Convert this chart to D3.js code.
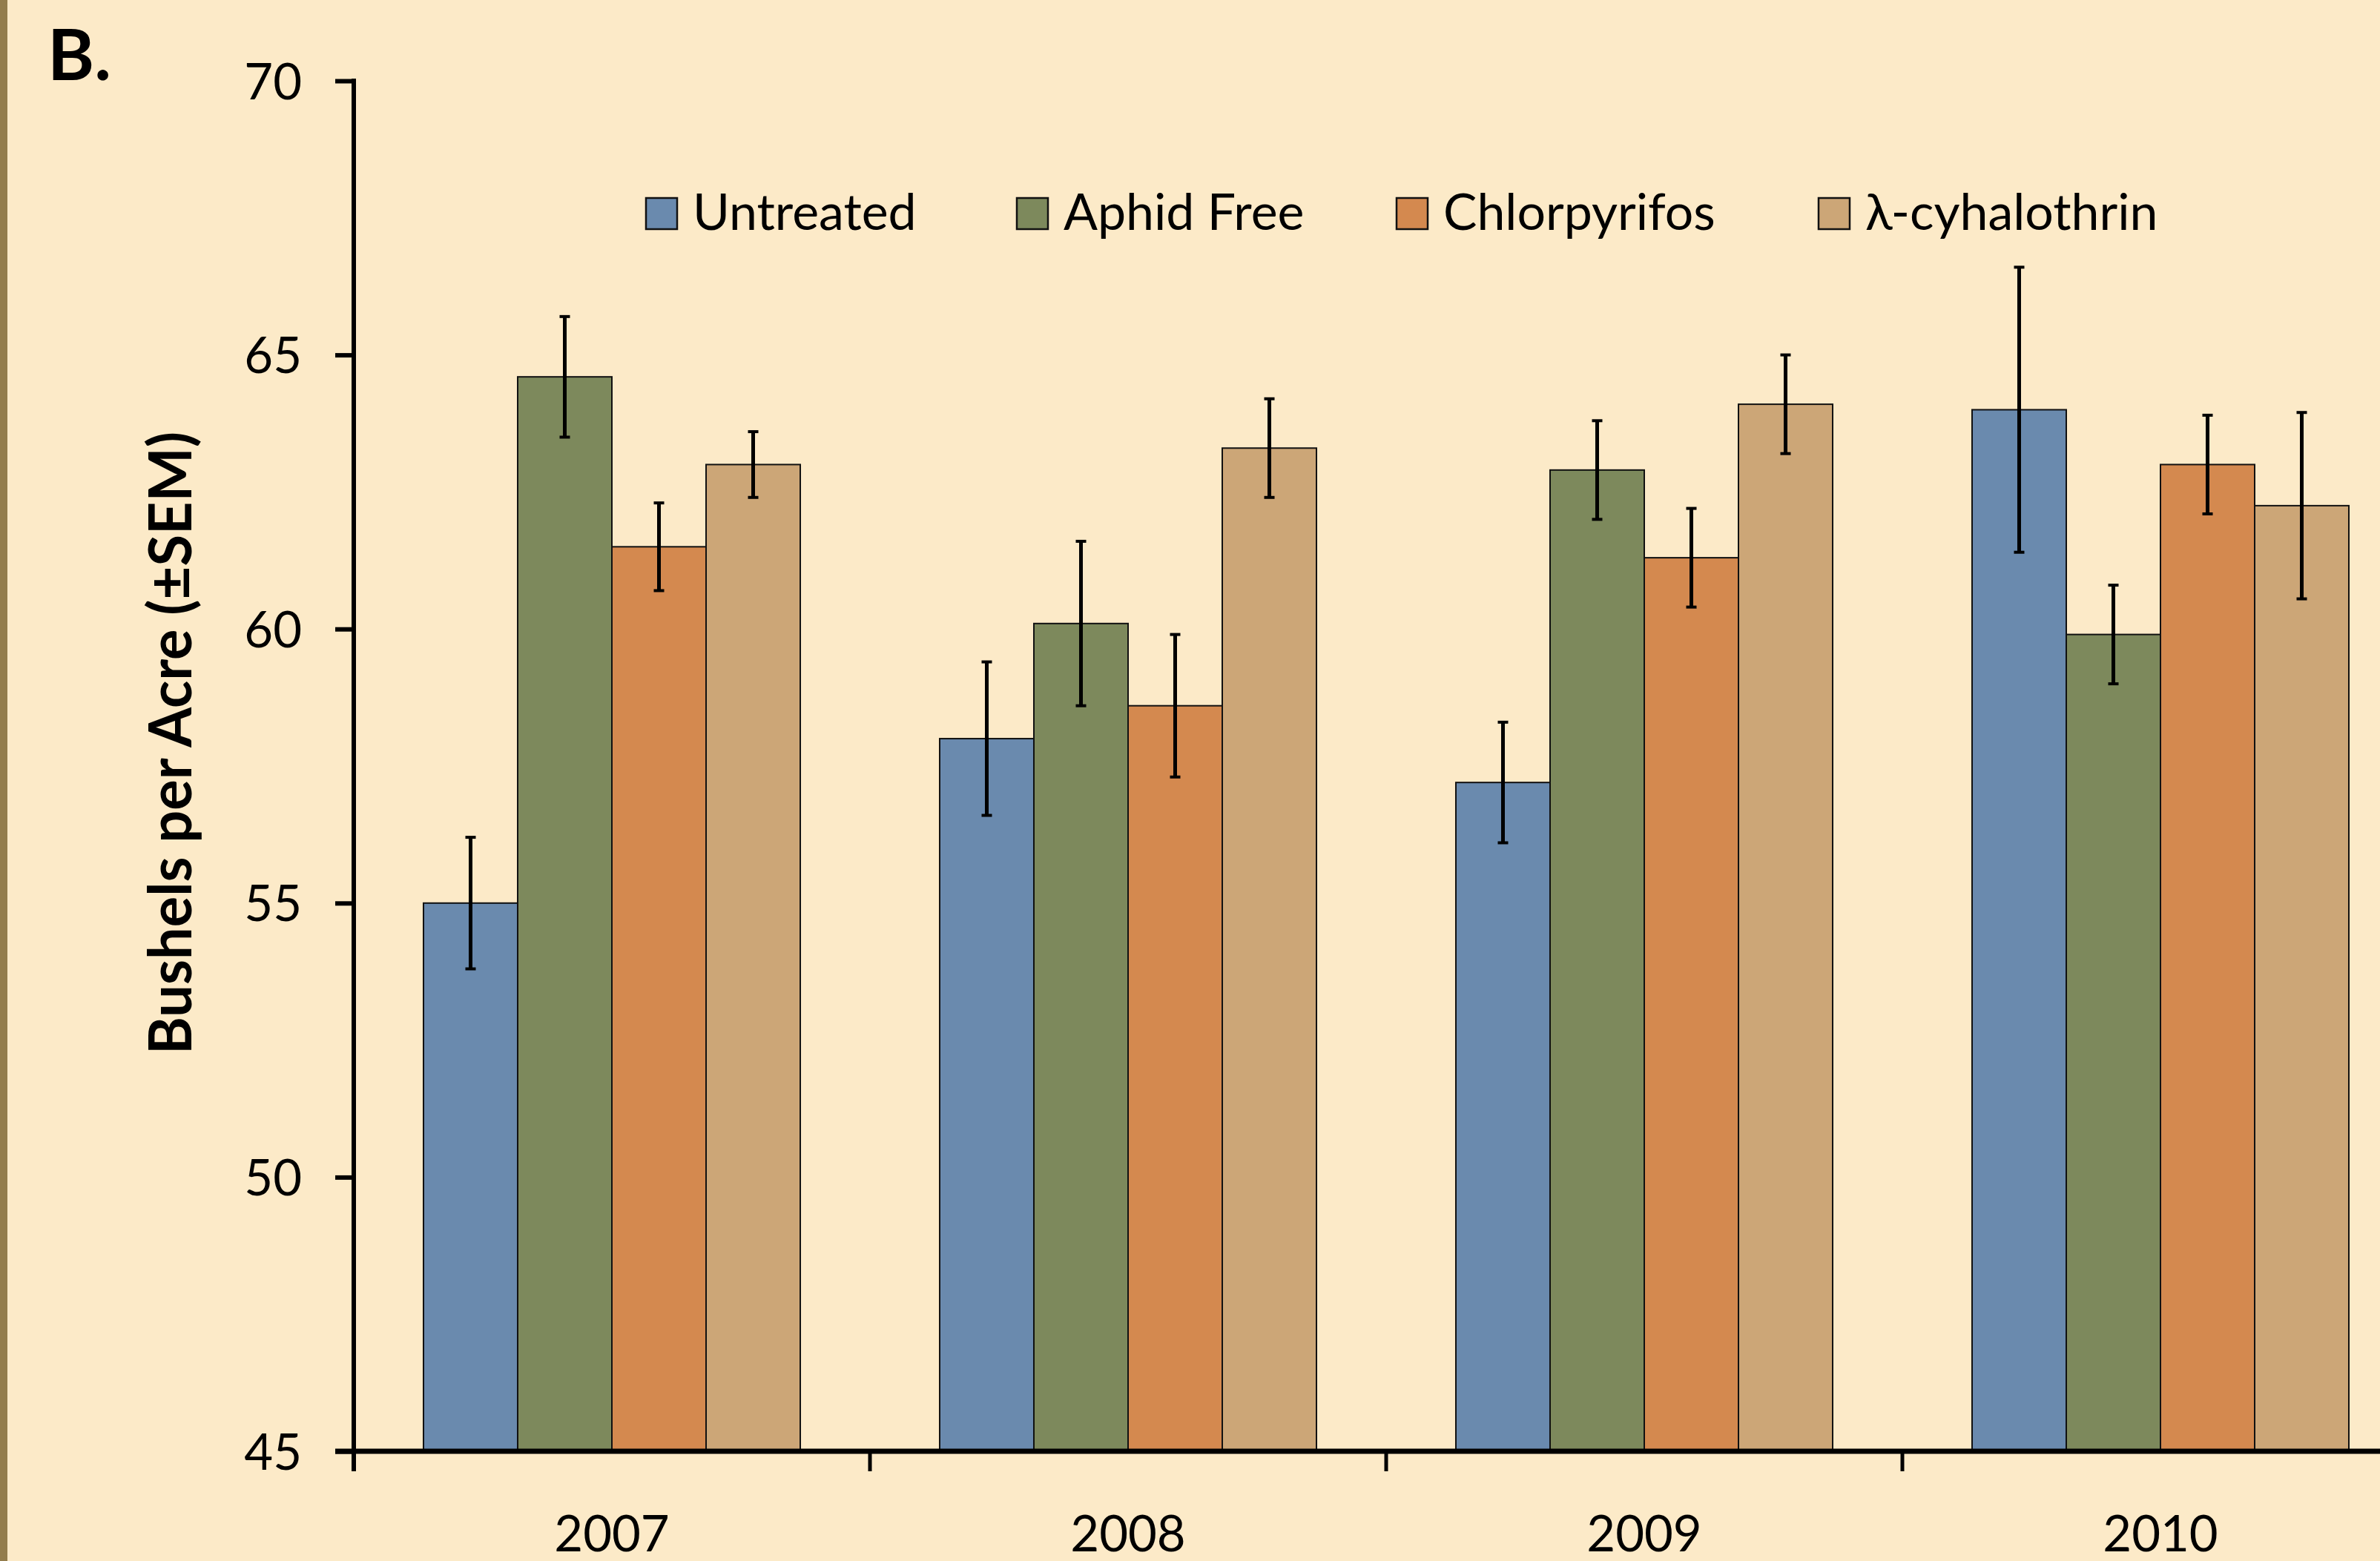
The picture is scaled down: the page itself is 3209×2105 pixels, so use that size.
<!DOCTYPE html>
<html>
<head>
<meta charset="utf-8">
<script src="https://cdn.jsdelivr.net/npm/d3@7"></script>
<style>
  html, body { margin: 0; padding: 0; background: #fceac8; overflow: hidden; }
  svg { display: block; }
</style>
</head>
<body>
<svg id="chart"></svg>
<script>
// Yield by year and treatment, bushels per acre with standard errors
const years = ["2007", "2008", "2009", "2010"];
const treatments = ["Untreated", "Aphid Free", "Chlorpyrifos", "λ-cyhalothrin"];

const untreatedYield = [55.0, 58.0, 57.2, 64.0];
const untreatedSem   = [1.2, 1.4, 1.1, 2.6];
const aphidFreeYield = [64.6, 60.1, 62.9, 59.9];
const aphidFreeSem   = [1.1, 1.5, 0.9, 0.9];
const chlorpyrifosYield = [61.5, 58.6, 61.3, 63.0];
const chlorpyrifosSem   = [0.8, 1.3, 0.9, 0.9];
const cyhalothrinYield = [63.0, 63.3, 64.1, 62.25];
const cyhalothrinSem   = [0.6, 0.9, 0.9, 1.7];

const yTicks = [45, 50, 55, 60, 65, 70];
const panelLabel = "B.";
const yTitle = "Bushels per Acre (\u00B1SEM)";

const colors = ["#6a8aae", "#7d895c", "#d4894f", "#cca677"];

const seriesYield = [untreatedYield, aphidFreeYield, chlorpyrifosYield, cyhalothrinYield];
const seriesSem = [untreatedSem, aphidFreeSem, chlorpyrifosSem, cyhalothrinSem];

// flat records for the bars
const records = [];
years.forEach((yr, i) => {
  treatments.forEach((t, j) => {
    records.push({ year: yr, treatment: t, value: seriesYield[j][i], sem: seriesSem[j][i], color: colors[j] });
  });
});

const W = 3209, H = 2105;
const svg = d3.select("#chart").attr("width", W).attr("height", H);

svg.append("rect").attr("width", W).attr("height", H).attr("fill", "#fceac8");
// left border stripe
svg.append("rect").attr("x", 0).attr("y", 0).attr("width", 10).attr("height", H).attr("fill", "#937d4d");

const x0 = 477, x1 = 3261;   // category axis extends past the right edge
const yTop = 109, yBottom = 1957;
const FONT = "Lato, 'Open Sans', sans-serif";

const x = d3.scaleBand().domain(years).range([x0, x1]).paddingInner(0).paddingOuter(0);
const xs = d3.scaleBand().domain(treatments).range([0, x.bandwidth()]).paddingInner(0).paddingOuter(0.74);
const y = d3.scaleLinear().domain([45, 70]).range([yBottom, yTop]);

// bars
const bars = svg.append("g");
bars.selectAll("rect").data(records).join("rect")
  .attr("x", d => x(d.year) + xs(d.treatment))
  .attr("y", d => y(d.value))
  .attr("width", xs.bandwidth())
  .attr("height", d => y(45) - y(d.value))
  .attr("fill", d => d.color)
  .attr("stroke", "#111")
  .attr("stroke-width", 2);

// error bars
const errs = svg.append("g").attr("stroke", "#000").attr("fill", "none");
const cx = d => x(d.year) + xs(d.treatment) + xs.bandwidth() / 2;
errs.selectAll("line.v").data(records).join("line").attr("class", "v")
  .attr("x1", cx).attr("x2", cx)
  .attr("y1", d => y(d.value + d.sem)).attr("y2", d => y(d.value - d.sem))
  .attr("stroke-width", 5);
errs.selectAll("line.top").data(records).join("line").attr("class", "top")
  .attr("x1", d => cx(d) - 7).attr("x2", d => cx(d) + 7)
  .attr("y1", d => y(d.value + d.sem)).attr("y2", d => y(d.value + d.sem))
  .attr("stroke-width", 4);
errs.selectAll("line.bot").data(records).join("line").attr("class", "bot")
  .attr("x1", d => cx(d) - 7).attr("x2", d => cx(d) + 7)
  .attr("y1", d => y(d.value - d.sem)).attr("y2", d => y(d.value - d.sem))
  .attr("stroke-width", 4);

// y axis
const yAxis = svg.append("g").attr("transform", `translate(${x0},0)`)
  .call(d3.axisLeft(y).tickValues(yTicks).tickSize(25).tickSizeOuter(0).tickPadding(45).tickFormat(d3.format("d")));
yAxis.select(".domain").remove();
yAxis.selectAll(".tick line").attr("stroke", "#000").attr("stroke-width", 6);
yAxis.selectAll(".tick text")
  .attr("font-family", FONT).attr("font-size", 67).attr("fill", "#000")
  .attr("dy", "0.36em");
svg.append("line").attr("x1", x0).attr("x2", x0).attr("y1", yTop - 3).attr("y2", yBottom + 27)
  .attr("stroke", "#000").attr("stroke-width", 6);

// x axis
svg.append("line").attr("x1", x0 - 25).attr("x2", W).attr("y1", yBottom).attr("y2", yBottom)
  .attr("stroke", "#000").attr("stroke-width", 7);
svg.append("g").selectAll("line").data(years.slice(1)).join("line")
  .attr("x1", d => x(d)).attr("x2", d => x(d))
  .attr("y1", yBottom).attr("y2", yBottom + 27)
  .attr("stroke", "#000").attr("stroke-width", 5);
const xAxis = svg.append("g").attr("transform", `translate(0,${yBottom})`)
  .call(d3.axisBottom(x).tickSize(0).tickPadding(0));
xAxis.select(".domain").remove();
xAxis.selectAll(".tick text")
  .attr("font-family", FONT).attr("font-size", 67).attr("fill", "#000")
  .attr("dy", null).attr("y", 135);

// y title
svg.append("text")
  .attr("transform", `translate(258,1002) rotate(-90)`)
  .attr("text-anchor", "middle")
  .attr("font-family", FONT).attr("font-weight", 700).attr("font-size", 80)
  .attr("textLength", 840).attr("lengthAdjust", "spacingAndGlyphs")
  .text(yTitle);

// panel label
svg.append("text").attr("x", 64).attr("y", 108)
  .attr("font-family", FONT).attr("font-weight", 700).attr("font-size", 96)
  .text(panelLabel);

// legend
const legendX = [871, 1371, 1883, 2452];
const legend = svg.append("g");
treatments.forEach((t, j) => {
  legend.append("rect").attr("x", legendX[j]).attr("y", 267).attr("width", 42).attr("height", 42)
    .attr("fill", colors[j]).attr("stroke", "#111").attr("stroke-width", 2.5);
  legend.append("text").attr("x", legendX[j] + 63).attr("y", 310)
    .attr("font-family", FONT).attr("font-size", 68).attr("fill", "#000")
    .text(t);
});
</script>
</body>
</html>
